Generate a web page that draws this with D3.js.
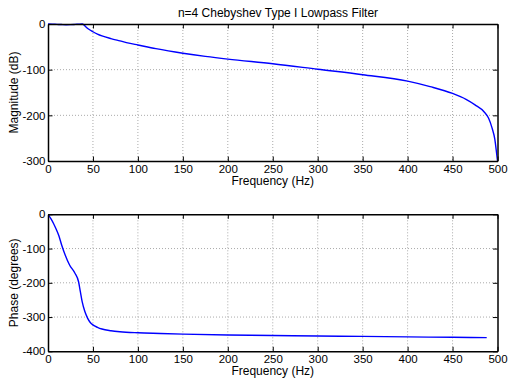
<!DOCTYPE html>
<html>
<head>
<meta charset="utf-8">
<script src="https://cdn.jsdelivr.net/npm/d3@7"></script>
<style>
  html, body { margin: 0; padding: 0; background: #fff; }
  svg { display: block; }
  text { font-family: "Liberation Sans", Arial, Helvetica, sans-serif; }
</style>
</head>
<body>
<svg id="chart" width="508" height="378"></svg>
<script>
// Frequency response of a 4th-order Chebyshev Type I lowpass filter
const magFreq = [0, 5, 10, 15, 20, 25, 30, 35, 38, 40, 42, 45, 50, 55, 60, 70, 80, 90, 100, 120, 150, 175, 200, 250, 300, 350, 400, 425, 450, 465, 475, 485, 490, 494, 497, 499, 500];
const magDb   = [0, -0.3, -0.8, -1.2, -1.5, -1.4, -0.9, -0.2, 0, -2, -6, -11, -17, -22, -26, -32, -37, -42, -46, -54, -64, -71, -77, -87, -99, -111, -125, -137, -152, -165, -177, -192, -206, -228, -252, -283, -300];

const phaseFreq = [0, 3, 6, 9, 12, 15, 19, 24, 30, 34, 36, 38, 41, 44, 47, 50, 55, 60, 70, 80, 100, 125, 150, 200, 250, 300, 350, 400, 450, 488];
const phaseDeg  = [0, -12, -26, -43, -62, -88, -118, -148, -172, -197, -226, -255, -284, -303, -316, -323, -330, -335, -340, -343, -346, -348, -350, -352.5, -354, -355.5, -356.5, -358, -359, -360];

const freqTicks  = [0, 50, 100, 150, 200, 250, 300, 350, 400, 450, 500];
const magTicks   = [-300, -200, -100, 0];
const phaseTicks = [-400, -300, -200, -100, 0];

const titleText = "n=4 Chebyshev Type I Lowpass Filter";
const xLabel = "Frequency (Hz)";

const svg = d3.select("#chart");
const TICK_FONT = 11.5;
const LABEL_FONT = 12;

function panel(cfg) {
  const { left, right, top, bottom, yDomain, yTicks, xs, ys, yLabel, id } = cfg;
  const x = d3.scaleLinear().domain([0, 500]).range([left, right]);
  const y = d3.scaleLinear().domain(yDomain).range([bottom, top]);
  const g = svg.append("g");

  // dotted grid
  g.append("g").selectAll("line")
    .data(freqTicks.filter(d => d > 0 && d < 500)).join("line")
    .attr("x1", d => x(d)).attr("x2", d => x(d))
    .attr("y1", top).attr("y2", bottom)
    .attr("stroke", "#aaaaaa").attr("stroke-width", 1)
    .attr("stroke-dasharray", "1,2");
  g.append("g").selectAll("line")
    .data(yTicks.filter(d => d > yDomain[0] && d < yDomain[1])).join("line")
    .attr("x1", left).attr("x2", right)
    .attr("y1", d => y(d)).attr("y2", d => y(d))
    .attr("stroke", "#aaaaaa").attr("stroke-width", 1)
    .attr("stroke-dasharray", "1,2");

  // data line
  g.append("clipPath").attr("id", id)
    .append("rect").attr("x", left).attr("y", top - 1)
    .attr("width", right - left).attr("height", bottom - top + 2);
  const line = d3.line().x(d => x(d[0])).y(d => y(d[1])).curve(d3.curveMonotoneX);
  g.append("path")
    .datum(xs.map((f, i) => [f, ys[i]]))
    .attr("clip-path", `url(#${id})`)
    .attr("d", line)
    .attr("fill", "none")
    .attr("stroke", "#0000ff")
    .attr("stroke-width", 1.4);

  // axes with inward ticks on all four sides
  const tk = 4.5;
  const styleAxis = sel => {
    sel.select(".domain").attr("stroke", "#000").attr("stroke-width", 1.5);
    sel.selectAll(".tick line").attr("stroke", "#000").attr("stroke-width", 1);
    sel.selectAll("text").attr("font-size", TICK_FONT)
      .attr("font-family", "'Liberation Sans', Arial, sans-serif").attr("fill", "#000");
  };
  g.append("g").attr("transform", `translate(0,${bottom})`)
    .call(d3.axisBottom(x).tickValues(freqTicks).tickSizeInner(-tk).tickSizeOuter(0).tickPadding(3.5).tickFormat(d3.format("d")))
    .call(styleAxis);
  g.append("g").attr("transform", `translate(0,${top})`)
    .call(d3.axisTop(x).tickValues(freqTicks).tickSizeInner(-tk).tickSizeOuter(0).tickFormat(""))
    .call(styleAxis);
  g.append("g").attr("transform", `translate(${left},0)`)
    .call(d3.axisLeft(y).tickValues(yTicks).tickSizeInner(-tk).tickSizeOuter(0).tickPadding(2.5).tickFormat(d => String(d).replace("\u2212", "-")))
    .call(styleAxis);
  g.append("g").attr("transform", `translate(${right},0)`)
    .call(d3.axisRight(y).tickValues(yTicks).tickSizeInner(-tk).tickSizeOuter(0).tickFormat(""))
    .call(styleAxis);

  // axis labels
  g.append("text")
    .attr("x", (left + right) / 2).attr("y", bottom + 23.8)
    .attr("text-anchor", "middle").attr("font-size", LABEL_FONT)
    .text(xLabel);
  g.append("text")
    .attr("transform", `translate(17.5,${(top + bottom) / 2}) rotate(-90)`)
    .attr("text-anchor", "middle").attr("font-size", LABEL_FONT)
    .text(yLabel);
  return g;
}

panel({ id: "clipMag", left: 48, right: 497.5, top: 24, bottom: 161,
  yDomain: [-300, 0], yTicks: magTicks, xs: magFreq, ys: magDb, yLabel: "Magnitude (dB)" });
panel({ id: "clipPhase", left: 48, right: 497.5, top: 214.3, bottom: 351.3,
  yDomain: [-400, 0], yTicks: phaseTicks, xs: phaseFreq, ys: phaseDeg, yLabel: "Phase (degrees)" });

svg.append("text")
  .attr("x", 278).attr("y", 16.5)
  .attr("text-anchor", "middle").attr("font-size", LABEL_FONT)
  .text(titleText);
</script>
</body>
</html>
